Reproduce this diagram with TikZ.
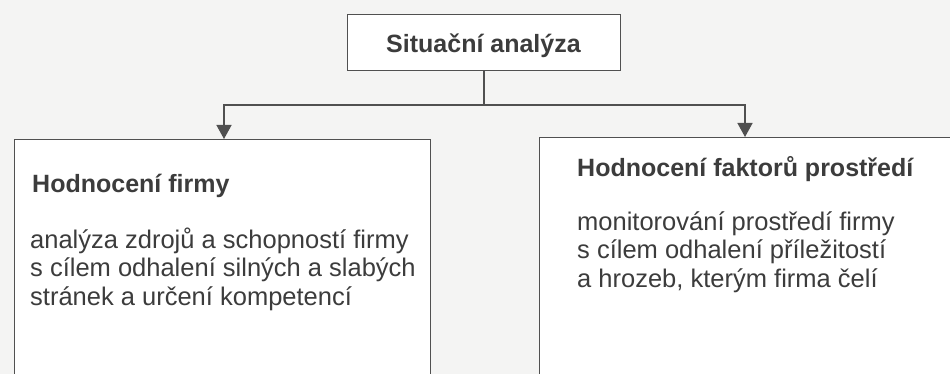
\documentclass[tikz,border=0pt]{standalone}
\usepackage{fontspec}
\setmainfont{Liberation Sans}
\usetikzlibrary{arrows.meta}
\definecolor{ink}{HTML}{505050}
\definecolor{txt}{HTML}{3C3C3C}
\definecolor{paper}{HTML}{F4F4F3}
\tikzset{
  boxst/.style={draw=ink, line width=1.4pt, fill=white, inner sep=0pt, anchor=north west},
  headst/.style={font=\fontsize{25}{28.5}\selectfont\bfseries, text=txt, anchor=base west, inner sep=0pt},
  bodyst/.style={font=\fontsize{25.5}{28.5}\selectfont, text=txt, anchor=base west, inner sep=0pt},
  conn/.style={draw=ink, line width=1.4pt},
  arr/.style={conn, -{Triangle[width=15pt,length=14pt]}}
}
\begin{document}
\begin{tikzpicture}[x=1pt,y=-1pt]
\clip (0,0) rectangle (950,374);
\fill[paper] (0,0) rectangle (950,374);
% top box
\node[boxst, minimum width=273pt, minimum height=56pt] (top) at (347,14) {};
\node[font=\fontsize{25}{28.5}\selectfont\bfseries, text=txt, anchor=base, inner sep=0pt] (toptxt) at (483.5,53) {Situační analýza};
% lower boxes
\node[boxst, minimum width=416pt, minimum height=250pt] (left) at (14,139) {};
\node[boxst, minimum width=420pt, minimum height=250pt] (right) at (539,137) {};
% connectors
\coordinate (split) at (484,105);
\coordinate (lc) at (224,105);
\coordinate (rc) at (745,105);
\draw[conn] (top.south -| split) -- (split);
\draw[conn, line cap=rect] (lc) -- (rc);
\draw[arr] (lc) -- (lc |- left.north);
\draw[arr] (rc) -- (rc |- right.north);
% left texts
\node[headst] (lh) at (32,193) {Hodnocení firmy};
\node[bodyst] (lb1) at (30,248) {analýza zdrojů a schopností firmy};
\node[bodyst] (lb2) at (30,276.5) {s cílem odhalení silných a slabých};
\node[bodyst] (lb3) at (30,305) {stránek a určení kompetencí};
% right texts
\node[headst] (rh) at (577,177) {Hodnocení faktorů prostředí};
\node[bodyst] (rb1) at (577,230) {monitorování prostředí firmy};
\node[bodyst] (rb2) at (577,258.5) {s cílem odhalení příležitostí};
\node[bodyst] (rb3) at (577,287) {a hrozeb, kterým firma čelí};
\end{tikzpicture}
\end{document}
